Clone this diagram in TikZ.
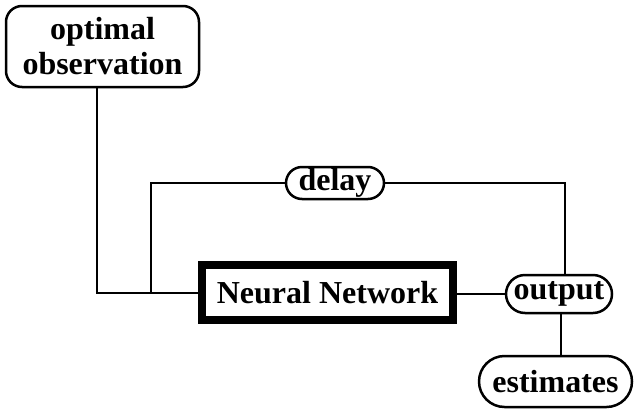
\documentclass[tikz,border=0pt]{standalone}
\usepackage{fontspec}
\setmainfont{Liberation Serif}
\usetikzlibrary{shapes.misc}
\begin{document}
\begin{tikzpicture}[x=1pt,y=-1pt,
  lbl/.style={font=\fontsize{32}{35}\selectfont\bfseries, align=center, inner sep=0pt},
  roundbox/.style={lbl, draw, line width=2.5pt, rounded corners=16pt},
  pill/.style={lbl, draw, line width=2.5pt, rounded rectangle},
  nnbox/.style={lbl, draw, line width=8pt},
  conn/.style={line width=1.4pt}]
\useasboundingbox (0,0) rectangle (634,410);
\node[roundbox, minimum width=193pt, minimum height=81pt] (obs) at (102.5,46.5) {optimal\\observation};
\node[nnbox, minimum width=251pt, minimum height=55pt] (nn) at (327.5,292.5) {Neural Network};
\node[pill, minimum width=98pt, minimum height=32pt] (delay) at (335,183) {delay};
\node[pill, minimum width=106pt, minimum height=38pt] (out) at (559,294) {output};
\node[pill, minimum width=153pt, minimum height=51pt] (est) at (555.5,381.5) {estimates};
\coordinate (c1) at (97,293);
\coordinate (j) at (151,293);
\coordinate (c2) at (151,183);
\coordinate (c3) at (565,183);
\draw[conn] (obs.south -| c1) -- (c1) -- (nn.west |- c1);
\draw[conn] (j) -- (c2) -- (delay.west);
\draw[conn] (delay.east) -- (c3) -- (c3 |- out.north);
\draw[conn] (nn.east |- out.west) -- (out.west);
\draw[conn] (out.south -| 561,0) -- (est.north -| 561,0);
\end{tikzpicture}
\end{document}
